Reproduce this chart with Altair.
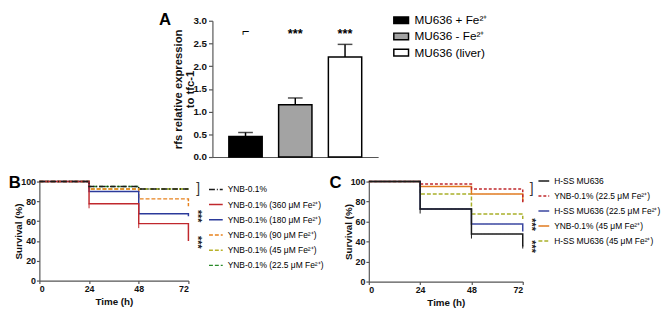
import altair as alt
import pandas as pd

FONT = "Liberation Sans"

# ---------------- Panel A data ----------------
groups_A = ["MU636 + Fe²⁺", "MU636 - Fe²⁺", "MU636 (liver)"]
mean_A = [0.45, 1.15, 2.2]
upper_A = [0.54, 1.30, 2.48]
fill_A = ["#000000", "#a3a3a3", "#ffffff"]
sig_A = ["⌐", "***", "***"]
sig_y_A = [2.74, 2.7, 2.7]
yticks_A = [0, 0.5, 1.0, 1.5, 2.0, 2.5, 3.0]

# ---------------- Panel B data ----------------
time_pts = [0, 24, 48, 72, 72]
series_B = ["YNB-0.1%", "YNB-0.1% (360 μM Fe²⁺)", "YNB-0.1% (180 μM Fe²⁺)",
            "YNB-0.1% (90 μM Fe²⁺)", "YNB-0.1% (45 μM Fe²⁺)", "YNB-0.1% (22.5 μM Fe²⁺)"]
surv_B_ynb = [100, 95, 92.5, 92.5, 92.5]
surv_B_360 = [100, 77.5, 57.5, 57.5, 40]
surv_B_180 = [100, 90, 67.5, 67.5, 65]
surv_B_90 = [100, 92.5, 82.5, 82.5, 75]
surv_B_45 = [100, 92.5, 92.5, 92.5, 92.5]
surv_B_22 = [100, 95, 92.5, 92.5, 92.5]
colors_B = ["#1a1a1a", "#c0282d", "#2b3a9a", "#e8821e", "#b8b22a", "#2a8a2a"]
dashes_B = [[6, 2, 1, 2], [1, 0], [1, 0], [4, 2], [4, 2], [4, 2]]
err_B_t = [24, 48]
err_B_lo = [73, 53]
err_B_hi = [78, 58]
sig_B_text = ["]", "***", "***"]
sig_B_y = [92, 65, 38.6]

# ---------------- Panel C data ----------------
series_C = ["H-SS MU636", "YNB-0.1% (22.5 μM Fe²⁺)", "H-SS MU636 (22.5 μM Fe²⁺)",
            "YNB-0.1% (45 μM Fe²⁺)", "H-SS MU636 (45 μM Fe²⁺)"]
surv_C_hss = [100, 72.5, 47.5, 47.5, 35]
surv_C_ynb22 = [100, 97.5, 92.5, 92.5, 77.5]
surv_C_hss22 = [100, 72.5, 57.5, 57.5, 50]
surv_C_ynb45 = [100, 95, 87.5, 87.5, 80]
surv_C_hss45 = [100, 87.5, 67.5, 67.5, 62.5]
colors_C = ["#1a1a1a", "#c0282d", "#3a46a0", "#e07a1f", "#a9b02a"]
dashes_C = [[1, 0], [3, 2], [1, 0], [1, 0], [4, 2]]
err_C_t = [24, 48, 72]
err_C_lo = [68, 43, 33]
err_C_hi = [73, 48, 36]
sig_C_text = ["]", "***", "***"]
sig_C_y = [92, 57, 35]

# ---------------- Panel A ----------------
dfA = pd.DataFrame({"group": groups_A, "mean": mean_A, "upper": upper_A,
                    "sig": sig_A, "sig_y": sig_y_A})
xA = alt.X("group:N", sort=groups_A,
           scale=alt.Scale(paddingInner=0.33, paddingOuter=0.33),
           axis=alt.Axis(labels=False, ticks=False, title=None, grid=False))
axisA = alt.Axis(values=yticks_A, format=".1f", labelOverlap=False, grid=False,
                 title=["rfs relative expression", "to tfc-1"],
                 titleFontSize=11.5, titleX=-30, titleLineHeight=13,
                 labelFontSize=10, tickSize=4, labelPadding=2)
scaleA = alt.Scale(domain=[0, 3], nice=False)


def yA(field):
    return alt.Y(field, scale=scaleA, axis=axisA)


bars = alt.Chart(dfA).mark_bar(stroke="black", strokeWidth=1.5).encode(
    x=xA, y=yA("mean:Q"),
    fill=alt.Fill("group:N", sort=groups_A,
                  scale=alt.Scale(domain=groups_A, range=fill_A),
                  legend=alt.Legend(title=None, orient="none", legendX=184, legendY=-9,
                                    symbolType="M-1,-0.45H1V0.45H-1Z", symbolSize=225,
                                    symbolStrokeColor="black", symbolStrokeWidth=1.5,
                                    labelFontSize=12, labelFont=FONT, rowPadding=1.5,
                                    labelOffset=5, padding=0)))
errA = alt.Chart(dfA).mark_rule(color="black", strokeWidth=1.5).encode(
    x=xA, y=yA("mean:Q"), y2="upper:Q")
capA = alt.Chart(dfA).mark_tick(color="black", thickness=1.5, size=15).encode(
    x=xA, y=yA("upper:Q"))
sigA = alt.Chart(dfA).mark_text(fontSize=13, fontWeight="bold", font=FONT, baseline="middle").encode(
    x=xA, y=yA("sig_y:Q"), text="sig:N")
letterA_df = pd.DataFrame({"group": [groups_A[0]], "mean": [3.0], "txt": ["A"]})
letterA = alt.Chart(letterA_df).mark_text(fontSize=17, fontWeight="bold", font=FONT,
                                          baseline="middle", dx=-82, dy=-1).encode(
    x=xA, y=yA("mean:Q"), text="txt:N")
panelA = alt.layer(bars, errA, capA, sigA, letterA).properties(width=169, height=139)


# ---------------- Survival panels ----------------
def long_df(series, values_lists):
    rows = []
    for s, vals in zip(series, values_lists):
        for i, (t, v) in enumerate(zip(time_pts, vals)):
            rows.append({"series": s, "time": t, "surv": v, "idx": i})
    return pd.DataFrame(rows)


def km_panel(df, series, colors, dashes, err_df, err_color, sig_df, letter, w, h,
             dx_letter, sig_dx, leg_x, leg_y, sym_size, row_pad, label_size):
    xs = alt.Scale(domain=[0, 72], nice=False)
    xax = alt.Axis(values=[0, 24, 48, 72], title="Time (h)", grid=False,
                   titlePadding=3, labelOverlap=False)
    ys = alt.Scale(domain=[0, 100], nice=False)
    yax = alt.Axis(values=[0, 20, 40, 60, 80, 100], title="Survival (%)",
                   titleX=-16, grid=False, labelOverlap=False)

    def X(f):
        return alt.X(f, scale=xs, axis=xax)

    def Y(f):
        return alt.Y(f, scale=ys, axis=yax)

    leg = alt.Legend(title=None, orient="none", legendX=leg_x, legendY=leg_y, symbolType="stroke",
                     symbolSize=sym_size, symbolStrokeWidth=1.5, labelFontSize=label_size,
                     labelFont=FONT, rowPadding=row_pad, labelOffset=4, padding=0)
    lines = alt.Chart(df).mark_line(interpolate="step-after", strokeWidth=1.5).encode(
        x=X("time:Q"), y=Y("surv:Q"),
        color=alt.Color("series:N", sort=series, scale=alt.Scale(domain=series, range=colors), legend=leg),
        strokeDash=alt.StrokeDash("series:N", sort=series, scale=alt.Scale(domain=series, range=dashes), legend=leg),
        order="idx:Q")
    err = alt.Chart(err_df).mark_rule(color=err_color, strokeWidth=1).encode(
        x=X("time:Q"), y=Y("lo:Q"), y2="hi:Q")
    sig_br = alt.Chart(sig_df.iloc[:1]).mark_text(fontSize=14, font=FONT, dx=sig_dx, baseline="middle",
                                                 color="#333").encode(
        x=X("time:Q"), y=Y("surv:Q"), text="txt:N")
    sig_st = alt.Chart(sig_df.iloc[1:]).mark_text(fontSize=11, fontWeight="bold", font=FONT, angle=90,
                                                 dy=-(sig_dx - 1), baseline="middle", color="#222").encode(
        x=X("time:Q"), y=Y("surv:Q"), text="txt:N")
    let_df = pd.DataFrame({"time": [0], "surv": [100], "txt": [letter]})
    let = alt.Chart(let_df).mark_text(fontSize=17, fontWeight="bold", font=FONT, baseline="middle",
                                      dx=dx_letter, dy=2).encode(
        x=X("time:Q"), y=Y("surv:Q"), text="txt:N")
    return alt.layer(lines, err, sig_br, sig_st, let).properties(width=w, height=h)


dfB = long_df(series_B[::-1], [surv_B_22, surv_B_45, surv_B_90, surv_B_180, surv_B_360, surv_B_ynb])
errB = pd.DataFrame({"time": err_B_t, "lo": err_B_lo, "hi": err_B_hi})
sigB = pd.DataFrame({"time": [72, 72, 72], "surv": sig_B_y, "txt": sig_B_text})
panelB = km_panel(dfB, series_B, colors_B, dashes_B, errB, "#c0282d", sigB, "B", 152, 101,
                  -25, 10, 172, 0, 196, 2.5, 8.6)

dfC = long_df([series_C[4], series_C[3], series_C[1], series_C[2], series_C[0]],
              [surv_C_hss45, surv_C_ynb45, surv_C_ynb22, surv_C_hss22, surv_C_hss])
errC = pd.DataFrame({"time": err_C_t, "lo": err_C_lo, "hi": err_C_hi})
sigC = pd.DataFrame({"time": [72, 72, 72], "surv": sig_C_y, "txt": sig_C_text})
panelC = km_panel(dfC, series_C, colors_C, dashes_C, errC, "#1a1a1a", sigC, "C", 157, 102,
                  -34, 9, 172, -7, 121, 3.3, 8.6)

bottom = alt.hconcat(panelB, panelC, spacing=5).resolve_scale(color="independent", strokeDash="independent")
chart = alt.vconcat(panelA, bottom, spacing=13, center=True).resolve_scale(
    color="independent", strokeDash="independent", fill="independent"
).properties(padding=0).configure_view(stroke=None).configure_axis(
    labelFont=FONT, titleFont=FONT, labelFontWeight="bold", titleFontWeight="bold",
    labelFontSize=9, titleFontSize=10, labelColor="#111", titleColor="#111",
    domainColor="#555", tickColor="#555", tickSize=3, labelPadding=1,
    domainWidth=1.2, tickWidth=1.2, labelOverlap=False
)

chart.save("out.html", embed_options={"renderer": "svg", "actions": False})
